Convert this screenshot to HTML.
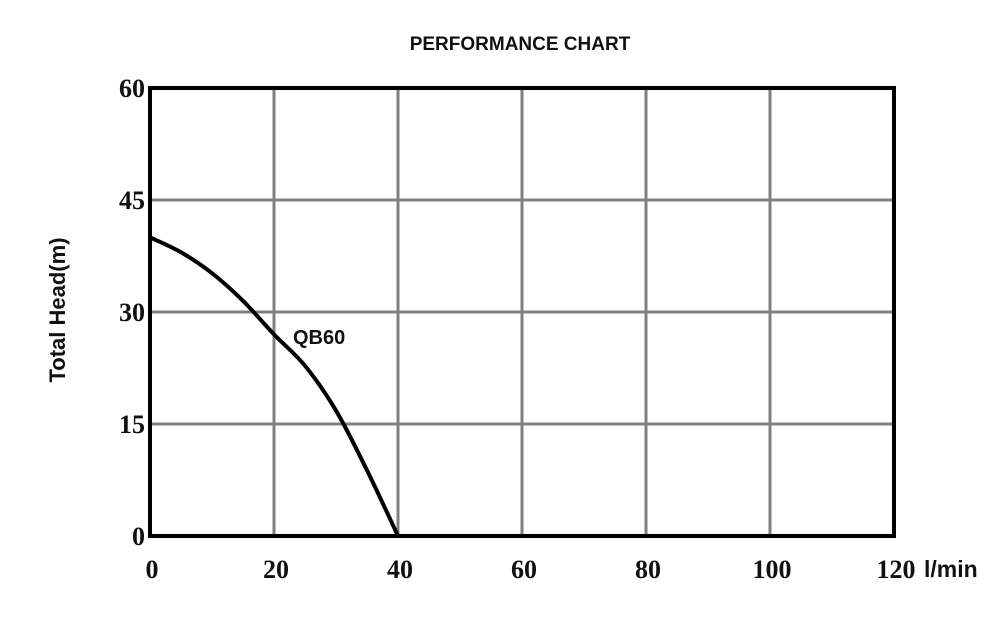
<!DOCTYPE html>
<html><head><meta charset="utf-8"><style>
body{margin:0;background:#fff;width:1000px;height:637px;overflow:hidden}
svg{display:block}
.tk{font-family:"Liberation Serif",serif;font-weight:bold;font-size:26px;fill:#111}
.sn{font-family:"Liberation Sans",sans-serif;font-weight:bold;fill:#111}
</style></head><body>
<svg id="c" width="1000" height="637"></svg>
<script>
const xTicks=[0,20,40,60,80,100,120];
const yTicks=[0,15,30,45,60];
const flow=[0,5,10,15,20,25,30,35,40];
const head=[40,38,35.2,31.5,27,22.8,16.8,8.8,0];
const ns="http://www.w3.org/2000/svg";
const svg=document.getElementById('c');
const L=150,R=894,T=88,B=536;
const sx=v=>L+(v-0)/(120)*(R-L);
const sy=v=>B-(v/60)*(B-T);
function mk(t,a,p){const e=document.createElementNS(ns,t);for(const k in a)e.setAttribute(k,a[k]);(p||svg).appendChild(e);return e;}
let t=mk('text',{x:520,y:50,'text-anchor':'middle','class':'sn','font-size':'19'});t.textContent='PERFORMANCE CHART';


const g=mk('g',{});


xTicks.forEach(v=>{const l=mk('line',{x1:sx(v),x2:sx(v),y1:T,y2:B,stroke:'#808080','stroke-width':3},g);


const tx=mk('text',{x:sx(v)+2,y:578,'text-anchor':'middle','class':'tk'});tx.textContent=v;

});
yTicks.forEach(v=>{const l=mk('line',{x1:L,x2:R,y1:sy(v),y2:sy(v),stroke:'#808080','stroke-width':3},g);


const tx=mk('text',{x:145,y:sy(v)+9,'text-anchor':'end','class':'tk'});tx.textContent=v;

});
const fr=mk('rect',{x:L,y:T,width:R-L,height:B-T,fill:'none',stroke:'#000','stroke-width':4});


const u=mk('text',{x:924,y:577,'class':'sn','font-size':'23'});u.textContent='l/min';


const yt=mk('text',{x:0,y:0,'class':'sn','font-size':'22','text-anchor':'middle',transform:'translate(65,310) rotate(-90)'});yt.textContent='Total Head(m)';


const pts=flow.map((f,i)=>[sx(f),sy(head[i])]);
let d='M'+pts[0][0]+','+pts[0][1];
for(let i=0;i<pts.length-1;i++){const p0=pts[Math.max(0,i-1)],p1=pts[i],p2=pts[i+1],p3=pts[Math.min(pts.length-1,i+2)];
d+=' C'+(p1[0]+(p2[0]-p0[0])/6)+','+(p1[1]+(p2[1]-p0[1])/6)+' '+(p2[0]-(p3[0]-p1[0])/6)+','+(p2[1]-(p3[1]-p1[1])/6)+' '+p2[0]+','+p2[1];}
const c=mk('path',{d:d,fill:'none',stroke:'#000','stroke-width':4});


const sl=mk('text',{x:293,y:344,'class':'sn','font-size':'20'});sl.textContent='QB60';


</script>
</body></html>
